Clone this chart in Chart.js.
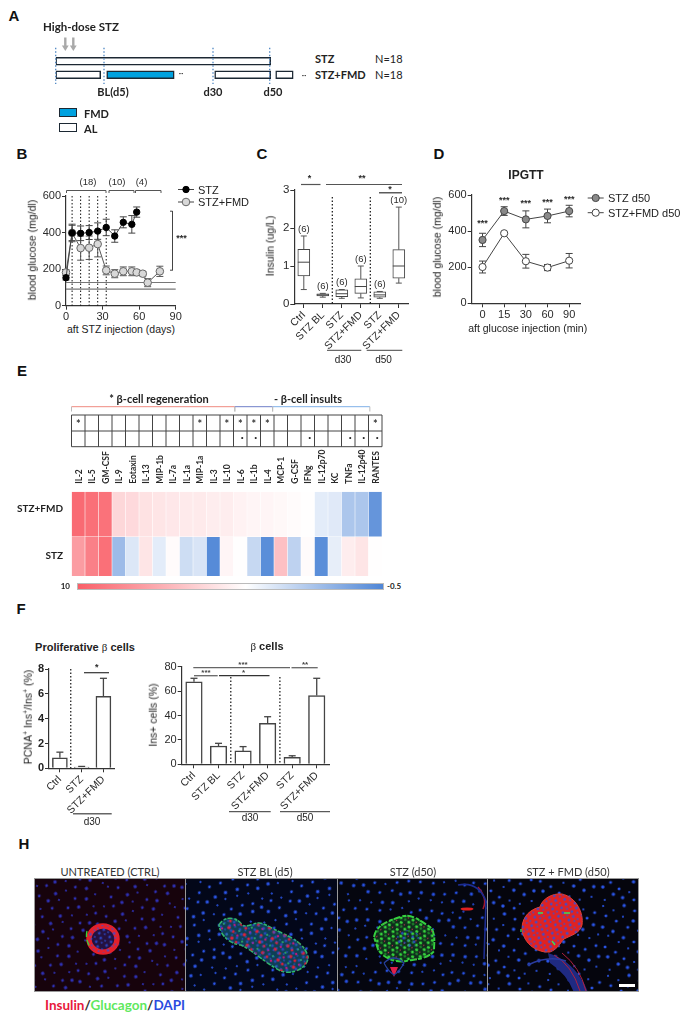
<!DOCTYPE html>
<html>
<head>
<meta charset="utf-8">
<script src="https://cdn.jsdelivr.net/npm/chart.js@4"></script>
<style>
  html, body { margin: 0; padding: 0; background: #fff; }
  #page { position: relative; width: 686px; height: 1022px; overflow: hidden; }
  .box { position: absolute; }
  .txt { position: absolute; white-space: nowrap; color: #222; line-height: 1; }
  .swatch { position: absolute; box-sizing: border-box; border: 1.5px solid #1c2833; }
  .img { position: absolute; top: 879px; height: 112px; overflow: hidden; outline: 0.5px solid #999; }
  .img svg { position: absolute; left: 0; top: 0; filter: blur(0.55px); }
</style>
</head>
<body>
<div id="page"></div>
<script>
// panel A schematic
const timelineRows = ["STZ", "STZ+FMD"];
const stzSegments = [[0, 215]];
const alSegments = [[0, 45], [159, 215], [220, 237.5]];
const fmdSegments = [[51, 118.5]];
const timelineMarks = [0, 48.3, 157.3, 214];

// panel B
const bDaysStz = [0, 5, 12, 19, 26, 33, 40, 47, 54, 58];
const bStz = [153, 398, 396, 400, 408, 428, 381, 456, 445, 512];
const bStzErr = [12, 42, 40, 38, 45, 45, 34, 30, 48, 28];
const bDaysFmd = [0, 5, 12, 19, 26, 33, 40, 47, 54, 58, 63, 67, 77];
const bFmd = [182, 398, 315, 317, 337, 193, 175, 188, 188, 182, 175, 126, 188];
const bFmdErr = [14, 48, 66, 64, 70, 24, 22, 24, 24, 14, 12, 22, 28];
const bInjections = [5, 12, 19, 26, 33];
const bNormalRange = [91, 127];

// panel C
const cGroups = ["Ctrl", "STZ BL", "STZ", "STZ+FMD", "STZ", "STZ+FMD"];
const cMin = [0.38, 0.18, 0.15, 0.16, 0.15, 0.55];
const cQ1 = [0.74, 0.21, 0.19, 0.28, 0.18, 0.68];
const cMedian = [1.1, 0.24, 0.27, 0.46, 0.24, 1.0];
const cQ3 = [1.44, 0.27, 0.37, 0.66, 0.32, 1.43];
const cMax = [1.79, 0.28, 0.38, 1.0, 0.33, 2.55];
const cCounts = ["(6)", "(6)", "(6)", "(6)", "(6)", "(10)"];

// panel D
const dTimes = ["0", "15", "30", "60", "90"];
const dStz = [351, 511, 465, 484, 511];
const dStzErr = [37, 24, 47, 38, 32];
const dFmd = [201, 388, 233, 198, 236];
const dFmdErr = [33, 6, 38, 17, 40];
const dStarLevels = [440, 570, 552, 557, 573];

// panel E
const cytokines = ["IL-2", "IL-5", "GM-CSF", "IL-9", "Eotaxin", "IL-13", "MIP-1b", "IL-7a", "IL-1a", "MIP-1a", "IL-3", "IL-10", "IL-6", "IL-1b", "IL-4", "MCP-1", "G-CSF", "IFNg", "IL-12p70", "KC", "TNFa", "IL-12p40", "RANTES"];
const heatFmd = [9.6, 9.4, 9.3, 5.7, 5.6, 5.3, 5.2, 5.1, 5.0, 5.0, 4.9, 4.9, 4.7, 4.6, 4.6, 4.5, 4.4, 4.3, 3.5, 3.4, 2.0, 2.0, 0.1];
const heatStz = [7.8, 8.8, 9.4, 1.6, 3.3, 5.2, 3.5, 4.4, 2.9, 3.2, -0.3, 4.6, 4.3, 2.7, -0.2, 6.5, 2.5, 4.4, -0.2, 3.6, 4.9, 5.2, 4.3];
const tableStars = [0, 9, 11, 12, 13, 14, 22];
const tableDots = [12, 13, 17, 20, 21, 22];

// panel F
const fLeftGroups = ["Ctrl", "STZ", "STZ+FMD"];
const fLeft = [0.85, 0.1, 5.8];
const fLeftErr = [0.45, 0.05, 1.45];
const fRightGroups = ["Ctrl", "STZ BL", "STZ", "STZ+FMD", "STZ", "STZ+FMD"];
const fRight = [67.7, 15, 11, 33.6, 5.7, 56.3];
const fRightErr = [2.8, 2.2, 3.5, 5.4, 1.3, 14.2];

const SANS = '"Liberation Sans", Arial, sans-serif';
const LATO = 'Lato, sans-serif';
const INK = "#2b2b2b";

const page = document.getElementById("page");

function label(html, x, y, opts = {}) {
  const el = document.createElement("div");
  el.className = "txt";
  el.innerHTML = html;
  el.style.left = x + "px";
  el.style.top = y + "px";
  el.style.fontFamily = opts.font || SANS;
  el.style.fontSize = (opts.size || 10.5) + "px";
  if (opts.bold) el.style.fontWeight = "bold";
  if (opts.color) el.style.color = opts.color;
  const dx = opts.align === "left" ? "0" : opts.align === "right" ? "-100%" : "-50%";
  el.style.transform = `translate(${dx}, -50%) rotate(${opts.rot || 0}deg)`;
  page.appendChild(el);
}

// places a chart so that its plot area lands on a fixed rectangle of the page
function makeChart(box, plot, config, notes) {
  const wrap = document.createElement("div");
  wrap.className = "box";
  Object.assign(wrap.style, { left: box.left + "px", top: box.top + "px", width: box.width + "px", height: box.height + "px" });
  const canvas = document.createElement("canvas");
  wrap.appendChild(canvas);
  page.appendChild(wrap);

  const scales = config.options.scales;
  const xTop = scales.x.position === "top";
  scales.x.afterFit = s => { s.height = xTop ? plot.top - box.top : box.top + box.height - plot.bottom; };
  scales.y.afterFit = s => { s.width = plot.left - box.left; };

  config.options.responsive = true;
  config.options.maintainAspectRatio = false;
  config.options.animation = false;
  config.options.plugins = { legend: { display: false }, tooltip: { enabled: false } };
  // hidden scales still take the space set in afterFit, so only the far sides need padding
  config.options.layout = {
    autoPadding: false,
    padding: {
      left: 0,
      right: box.left + box.width - plot.right,
      top: xTop ? 0 : plot.top - box.top,
      bottom: xTop ? box.top + box.height - plot.bottom : 0,
    },
  };
  if (notes) {
    config.plugins = [{
      id: "notes",
      beforeDatasetsDraw(chart) {
        if (notes.under) notes.under(chart.ctx, chart.scales.x, chart.scales.y, box);
      },
      afterDraw(chart) {
        if (notes.over) notes.over(chart.ctx, chart.scales.x, chart.scales.y, box);
      },
    }];
  }
  return new Chart(canvas, config);
}

function axisX(extra) {
  return Object.assign({
    grid: { drawOnChartArea: false, drawTicks: true, tickLength: 4, color: "#333", offset: false },
    border: { display: true, color: "#333", width: 1.2 },
    ticks: { font: { family: SANS, size: 11 }, color: INK, padding: 1 },
  }, extra);
}
function axisY(extra) {
  return Object.assign({
    grid: { drawOnChartArea: false, drawTicks: true, tickLength: 4, color: "#333" },
    border: { display: true, color: "#333", width: 1.2 },
    ticks: { font: { family: SANS, size: 11 }, color: INK, padding: 1 },
  }, extra);
}
function slanted(size, bold) {
  return { font: { family: SANS, size: size, weight: bold ? "bold" : "normal" }, color: INK, padding: 1, minRotation: 45, maxRotation: 45, autoSkip: false };
}

function line(ctx, x1, y1, x2, y2, color, width, dash) {
  ctx.save();
  ctx.strokeStyle = color || "#333";
  ctx.lineWidth = width || 1;
  ctx.setLineDash(dash || []);
  ctx.beginPath();
  ctx.moveTo(x1, y1);
  ctx.lineTo(x2, y2);
  ctx.stroke();
  ctx.restore();
}
function text(ctx, str, x, y, font, color, align) {
  ctx.save();
  ctx.font = font;
  ctx.fillStyle = color || INK;
  ctx.textAlign = align || "center";
  ctx.textBaseline = "middle";
  ctx.fillText(str, x, y);
  ctx.restore();
}
function errorBars(ctx, xs, ys, errs, xScale, yScale, color, capHalf, isCategory) {
  xs.forEach((xv, i) => {
    const x = xScale.getPixelForValue(isCategory ? i : xv);
    const hi = yScale.getPixelForValue(ys[i] + errs[i]);
    const lo = yScale.getPixelForValue(ys[i] - errs[i]);
    line(ctx, x, hi, x, lo, color, 1);
    line(ctx, x - capHalf, hi, x + capHalf, hi, color, 1);
    line(ctx, x - capHalf, lo, x + capHalf, lo, color, 1);
  });
}
// error whisker on the upper side of a bar only
function upperErrors(ctx, values, errs, xScale, yScale, capHalf) {
  values.forEach((v, i) => {
    const x = xScale.getPixelForValue(i);
    const top = yScale.getPixelForValue(v + errs[i]);
    line(ctx, x, yScale.getPixelForValue(v), x, top, "#444", 1.3);
    line(ctx, x - capHalf, top, x + capHalf, top, "#444", 1.3);
  });
}
function legendMark(ctx, x, y, fill, stroke, radius) {
  line(ctx, x - 8, y, x + 8, y, "#444", 1);
  ctx.save();
  ctx.beginPath();
  ctx.arc(x, y, radius, 0, Math.PI * 2);
  ctx.fillStyle = fill;
  ctx.fill();
  ctx.strokeStyle = stroke;
  ctx.lineWidth = 1;
  ctx.stroke();
  ctx.restore();
}

/* ---------- panel letters ---------- */
[["A", 14, 15], ["B", 22, 153], ["C", 262, 153], ["D", 439, 153], ["E", 22, 370], ["F", 21, 608], ["H", 24, 843]].forEach(p => {
  label(p[0], p[1], p[2], { size: 15, bold: true, font: SANS, color: "#111" });
});

/* ---------- A: schedule ---------- */
makeChart({ left: 40, top: 30, width: 270, height: 60 }, { left: 55.7, right: 295.7, top: 54.5, bottom: 81.5 }, {
  type: "bar",
  data: {
    labels: timelineRows,
    datasets: [
      { data: stzSegments.map(s => ({ x: s, y: "STZ" })), backgroundColor: "#fff" },
      { data: alSegments.map(s => ({ x: s, y: "STZ+FMD" })), backgroundColor: "#fff" },
      { data: fmdSegments.map(s => ({ x: s, y: "STZ+FMD" })), backgroundColor: "#00a2e0" },
    ].map(d => Object.assign(d, { borderColor: "#1c2833", borderWidth: 1.5, borderSkipped: false, barThickness: 8, grouped: false })),
  },
  options: {
    indexAxis: "y",
    scales: {
      x: { type: "linear", min: 0, max: 240, display: false },
      y: { type: "category", display: false },
    },
  },
}, {
  over(ctx, x, y, box) {
    timelineMarks.forEach(m => line(ctx, x.getPixelForValue(m), 47.7 - box.top, x.getPixelForValue(m), 84 - box.top, "#4f87c4", 1.3, [1.5, 2]));
    [65.3, 73.3].forEach(ax => {
      const px = ax - box.left;
      line(ctx, px, 37.5 - box.top, px, 48 - box.top, "#a9a9a9", 2.4);
      ctx.fillStyle = "#a9a9a9";
      ctx.beginPath();
      ctx.moveTo(px - 3.4, 45.5 - box.top);
      ctx.lineTo(px + 3.4, 45.5 - box.top);
      ctx.lineTo(px, 51 - box.top);
      ctx.fill();
    });
  },
});
label("High-dose STZ", 43, 27, { size: 11.5, bold: true, font: LATO, align: "left", color: "#222" });
label("STZ", 315, 58, { size: 11, bold: true, font: LATO, align: "left" });
label("N=18", 375, 58, { size: 11, font: LATO, align: "left" });
label("STZ+FMD", 315, 74, { size: 11, bold: true, font: LATO, align: "left" });
label("N=18", 375, 74, { size: 11, font: LATO, align: "left" });
label("•••", 181, 74, { size: 4, bold: true });
label("•••", 304, 76, { size: 4, bold: true });
label("BL(d5)", 113, 91, { size: 11, bold: true, font: LATO });
label("d30", 213, 91, { size: 11, bold: true, font: LATO });
label("d50", 273, 91, { size: 11, bold: true, font: LATO });
[["FMD", 108, "#00a2e0"], ["AL", 123, "#fff"]].forEach(k => {
  const sw = document.createElement("div");
  sw.className = "swatch";
  Object.assign(sw.style, { left: "59px", top: k[1] + "px", width: "18px", height: "9px", background: k[2] });
  page.appendChild(sw);
  label(k[0], 84, k[1] + 4.5, { size: 11, bold: true, font: LATO, align: "left" });
});

/* ---------- B: blood glucose ---------- */
makeChart({ left: 0, top: 170, width: 250, height: 152 }, { left: 66, right: 175.7, top: 196, bottom: 305.7 }, {
  type: "line",
  data: {
    datasets: [
      { data: bDaysStz.map((d, i) => ({ x: d, y: bStz[i] })), borderColor: "#444", borderWidth: 1, pointRadius: 3.2, pointBackgroundColor: "#000", pointBorderColor: "#000", clip: false },
      { data: bDaysFmd.map((d, i) => ({ x: d, y: bFmd[i] })), borderColor: "#555", borderWidth: 1, pointRadius: 3.8, pointBackgroundColor: "#d8d8d8", pointBorderColor: "#666", clip: false },
    ],
  },
  options: {
    scales: {
      x: axisX({ type: "linear", min: 0, max: 90, ticks: { stepSize: 30, font: { family: SANS, size: 11 }, color: INK, padding: 1 } }),
      y: axisY({ min: 0, max: 600, ticks: { stepSize: 200, font: { family: SANS, size: 11 }, color: INK, padding: 1 } }),
    },
  },
}, {
  under(ctx, x, y, box) {
    bInjections.forEach(d => line(ctx, x.getPixelForValue(d), y.getPixelForValue(600), x.getPixelForValue(d), y.getPixelForValue(0), "#111", 1, [1.5, 2]));
    bNormalRange.forEach(v => line(ctx, x.getPixelForValue(0), y.getPixelForValue(v), x.getPixelForValue(90), y.getPixelForValue(v), "#777", 1.2));
    errorBars(ctx, bDaysFmd, bFmd, bFmdErr, x, y, "#555", 3.5);
    errorBars(ctx, bDaysStz, bStz, bStzErr, x, y, "#444", 3.5);
  },
  over(ctx, x, y, box) {
    const top = box.top;
    [[66.5, 106, "(18)", 88, "#555"], [109, 134, "(10)", 117, "#555"], [135.5, 161, "(4)", 141.5, "#555"]].forEach(b => {
      line(ctx, b[0], 190.5 - top, b[1], 190.5 - top, b[4], 1);
      line(ctx, b[0], 190.5 - top, b[0], 193 - top, b[4], 1);
      line(ctx, b[1], 190.5 - top, b[1], 193 - top, b[4], 1);
      text(ctx, b[2], b[3], 182.5 - top, `9.5px ${SANS}`);
    });
    line(ctx, 170, 211.2 - top, 172.5, 211.2 - top, "#444", 1);
    line(ctx, 172.5, 211 - top, 172.5, 270.5 - top, "#444", 1);
    line(ctx, 170, 270.2 - top, 172.5, 270.2 - top, "#444", 1);
    text(ctx, "***", 181.5, 239 - top, `bold 9px ${SANS}`);
    legendMark(ctx, 186, 189.5 - top, "#000", "#000", 3.2);
    legendMark(ctx, 186, 202 - top, "#d8d8d8", "#666", 3.8);
  },
});
label("STZ", 198, 189.5, { size: 11, align: "left" });
label("STZ+FMD", 198, 202, { size: 11, align: "left" });
label("blood glucose (mg/dl)", 32, 250, { size: 10.5, rot: -90 });
label("aft STZ injection (days)", 121, 329, { size: 10.5 });

/* ---------- C: insulin ---------- */
makeChart({ left: 250, top: 170, width: 170, height: 195 }, { left: 294.3, right: 408.3, top: 190, bottom: 304 }, {
  type: "bar",
  data: {
    labels: cGroups,
    datasets: [{
      data: cGroups.map((g, i) => [cQ1[i], cQ3[i]]),
      backgroundColor: "#fff", borderColor: "#444", borderWidth: 1, borderSkipped: false, barThickness: 12,
    }],
  },
  options: {
    scales: {
      x: axisX({ ticks: slanted(10.5) }),
      y: axisY({ min: 0, max: 3, ticks: { stepSize: 1, font: { family: SANS, size: 11.5 }, color: INK, padding: 1 } }),
    },
  },
}, {
  under(ctx, x, y) {
    cGroups.forEach((g, i) => {
      const px = x.getPixelForValue(i);
      line(ctx, px, y.getPixelForValue(cQ3[i]), px, y.getPixelForValue(cMax[i]), "#555", 1);
      line(ctx, px, y.getPixelForValue(cQ1[i]), px, y.getPixelForValue(cMin[i]), "#555", 1);
      line(ctx, px - 3, y.getPixelForValue(cMax[i]), px + 3, y.getPixelForValue(cMax[i]), "#555", 1);
      line(ctx, px - 3, y.getPixelForValue(cMin[i]), px + 3, y.getPixelForValue(cMin[i]), "#555", 1);
    });
  },
  over(ctx, x, y, box) {
    const L = box.left, T = box.top;
    cGroups.forEach((g, i) => {
      const px = x.getPixelForValue(i);
      line(ctx, px - 6, y.getPixelForValue(cMedian[i]), px + 6, y.getPixelForValue(cMedian[i]), "#444", 1);
      text(ctx, cCounts[i], px, y.getPixelForValue(cMax[i]) - 7, `9.5px ${SANS}`);
    });
    [1.5, 3.5].forEach(v => line(ctx, x.getPixelForValue(v), 197 - T, x.getPixelForValue(v), 304 - T, "#111", 1.2, [1.5, 2]));
    line(ctx, 301 - L, 184.5 - T, 320.5 - L, 184.5 - T, "#555", 1.2);
    line(ctx, 326 - L, 184.5 - T, 402 - L, 184.5 - T, "#555", 1.2);
    line(ctx, 379 - L, 192.8 - T, 402 - L, 192.8 - T, "#333", 1.2);
    text(ctx, "*", 309.5 - L, 179 - T, `bold 9px ${SANS}`);
    text(ctx, "**", 362 - L, 179 - T, `bold 9px ${SANS}`);
    text(ctx, "*", 390 - L, 190 - T, `bold 9px ${SANS}`);
    line(ctx, 327 - L, 350.3 - T, 361.3 - L, 350.3 - T, "#444", 1);
    line(ctx, 366.7 - L, 350.3 - T, 402.3 - L, 350.3 - T, "#444", 1);
  },
});
label("Insulin (ug/L)", 270, 246, { size: 10.5, rot: -90 });
label("d30", 343, 359.5, { size: 10 });
label("d50", 383.5, 359.5, { size: 10 });

/* ---------- D: IPGTT ---------- */
makeChart({ left: 430, top: 165, width: 256, height: 155 }, { left: 471.7, right: 580, top: 195, bottom: 303.3 }, {
  type: "line",
  data: {
    labels: dTimes,
    datasets: [
      { data: dStz, borderColor: "#444", borderWidth: 1, pointRadius: 3.6, pointBackgroundColor: "#8a8a8a", pointBorderColor: "#444" },
      { data: dFmd, borderColor: "#444", borderWidth: 1, pointRadius: 3.6, pointBackgroundColor: "#fff", pointBorderColor: "#444" },
    ],
  },
  options: {
    scales: {
      x: axisX({ type: "category", offset: true }),
      y: axisY({ min: 0, max: 600, ticks: { stepSize: 200, font: { family: SANS, size: 11 }, color: INK, padding: 1 } }),
    },
  },
}, {
  under(ctx, x, y) {
    errorBars(ctx, dTimes, dStz, dStzErr, x, y, "#444", 3.5, true);
    errorBars(ctx, dTimes, dFmd, dFmdErr, x, y, "#444", 3.5, true);
  },
  over(ctx, x, y, box) {
    dTimes.forEach((t, i) => text(ctx, "***", x.getPixelForValue(i), y.getPixelForValue(dStarLevels[i]), `bold 9px ${SANS}`));
    legendMark(ctx, 595.7 - box.left, 198 - box.top, "#8a8a8a", "#444", 3.6);
    legendMark(ctx, 595.7 - box.left, 212.7 - box.top, "#fff", "#444", 3.6);
  },
});
label("IPGTT", 526, 175, { size: 12, bold: true });
label("STZ d50", 608, 198, { size: 11, align: "left" });
label("STZ+FMD d50", 608, 212.7, { size: 11, align: "left" });
label("blood glucose (mg/dl)", 437, 246.5, { size: 10.5, rot: -90 });
label("aft glucose injection (min)", 527.7, 327.7, { size: 10.5 });

/* ---------- E: cytokine heatmap ---------- */
function mix(from, to, t) {
  return "rgb(" + from.map((c, i) => Math.round(c + (to[i] - c) * t)).join(",") + ")";
}
function heatColor(v) {
  const mid = 4.25;
  if (v >= mid) return mix([255, 255, 255], [249, 95, 104], (v - mid) / (10 - mid));
  return mix([255, 255, 255], [79, 134, 214], (mid - v) / (mid + 0.5));
}
makeChart({ left: 0, top: 390, width: 400, height: 190 }, { left: 71.5, right: 382, top: 491.7, bottom: 576 }, {
  type: "bar",
  data: {
    labels: cytokines,
    datasets: [
      { data: cytokines.map(() => [0, 39]), backgroundColor: heatStz.map(heatColor), barPercentage: 1, categoryPercentage: 0.96, grouped: false },
      { data: cytokines.map(() => [39.5, 84.5]), backgroundColor: heatFmd.map(heatColor), barPercentage: 1, categoryPercentage: 0.96, grouped: false },
    ],
  },
  options: {
    scales: {
      x: {
        position: "top",
        grid: { display: false },
        border: { display: false },
        // rotated top labels get pushed left by Chart.js, labelOffset brings them back over the column
        ticks: { font: { family: LATO, size: 8.5, weight: "bold" }, color: "#2a2a2a", minRotation: 90, maxRotation: 90, autoSkip: false, padding: 0, labelOffset: 11 },
      },
      y: { min: 0, max: 84.5, display: false },
    },
  },
}, {
  over(ctx, x, y, box) {
    const T = box.top;
    const cell = x.getPixelForValue(1) - x.getPixelForValue(0);
    const edge = i => x.getPixelForValue(i) - cell / 2;
    // two row marker table
    for (let i = 0; i <= cytokines.length; i++) line(ctx, edge(i), 415 - T, edge(i), 446.7 - T, "#444", 1);
    [415, 431, 446.7].forEach(r => line(ctx, edge(0), r - T, edge(cytokines.length), r - T, "#444", 1));
    tableStars.forEach(i => text(ctx, "*", x.getPixelForValue(i), 424.5 - T, `bold 11px ${LATO}`, "#333"));
    tableDots.forEach(i => text(ctx, "•", x.getPixelForValue(i) + 2, 438 - T, `bold 7px ${SANS}`, "#222"));
    // brackets
    const brackets = [[-0.5, 11.6, "#ef8a80"], [11.6, 14.4, "#6f7fc8"], [14.4, 21.6, "#7fb0e8"]];
    brackets.forEach(b => {
      const a = edge(b[0] + 0.5), c = edge(b[1] + 0.5);
      line(ctx, a, 406.7 - T, c, 406.7 - T, b[2], 1);
      line(ctx, a, 406.7 - T, a, 411.5 - T, "#bbb", 1);
      line(ctx, c, 406.7 - T, c, 411.5 - T, "#bbb", 1);
    });
  },
});
label("* β-cell regeneration", 159, 398, { size: 11, bold: true, font: LATO });
label("- β-cell insults", 308, 398, { size: 11, bold: true, font: LATO });
label("STZ+FMD", 63, 507.7, { size: 10, bold: true, font: LATO, align: "right" });
label("STZ", 63, 555, { size: 10, bold: true, font: LATO, align: "right" });
label("10", 70, 585.5, { size: 8, bold: true, font: LATO, align: "right" });
label("-0.5", 387, 586, { size: 8, bold: true, font: LATO, align: "left" });
const bar = document.createElement("div");
Object.assign(bar.style, {
  position: "absolute", left: "77px", top: "582.5px", width: "307px", height: "7.5px", border: "1px solid #bbb", boxSizing: "border-box",
  background: "linear-gradient(to right, #f95f68 0%, #ffffff 55%, #4f86d6 100%)",
});
page.appendChild(bar);

/* ---------- F: bars ---------- */
makeChart({ left: 0, top: 655, width: 130, height: 165 }, { left: 49, right: 114.3, top: 669, bottom: 768.3 }, {
  type: "bar",
  data: {
    labels: fLeftGroups,
    datasets: [{ data: fLeft, backgroundColor: "#fff", borderColor: "#444", borderWidth: 1.5, borderSkipped: "bottom", barThickness: 15 }],
  },
  options: {
    scales: {
      x: axisX({ ticks: slanted(10.5) }),
      y: axisY({ min: 0, max: 8, ticks: { stepSize: 2, font: { family: SANS, size: 11, weight: "bold" }, color: "#222", padding: 1 } }),
    },
  },
}, {
  under(ctx, x, y) { upperErrors(ctx, fLeft, fLeftErr, x, y, 3.5); },
  over(ctx, x, y, box) {
    const L = box.left, T = box.top;
    line(ctx, x.getPixelForValue(0.5), 669 - T, x.getPixelForValue(0.5), 768 - T, "#111", 1.2, [1.5, 2]);
    line(ctx, 84 - L, 672.7 - T, 109 - L, 672.7 - T, "#333", 1.2);
    text(ctx, "*", 96.7 - L, 668 - T, `bold 9px ${SANS}`);
    line(ctx, 73 - L, 813.7 - T, 111.7 - L, 813.7 - T, "#666", 1.5);
  },
});
label('Proliferative <span style="font-family:\'Liberation Serif\';font-weight:normal">β</span> cells', 85, 646.7, { size: 11, bold: true });
label('PCNA<sup style="font-size:7px;line-height:0">+</sup> Ins<sup style="font-size:7px;line-height:0">+</sup>/Ins<sup style="font-size:7px;line-height:0">+</sup> (%)', 28, 716.7, { size: 10.5, rot: -90 });
label("d30", 92, 822, { size: 10 });

makeChart({ left: 130, top: 655, width: 220, height: 165 }, { left: 181.7, right: 329, top: 666.7, bottom: 764.3 }, {
  type: "bar",
  data: {
    labels: fRightGroups,
    datasets: [{ data: fRight, backgroundColor: "#fff", borderColor: "#444", borderWidth: 1.5, borderSkipped: "bottom", barThickness: 16.5 }],
  },
  options: {
    scales: {
      x: axisX({ ticks: slanted(10.5) }),
      y: axisY({ min: 0, max: 80, ticks: { stepSize: 20, font: { family: SANS, size: 11 }, color: INK, padding: 1 } }),
    },
  },
}, {
  under(ctx, x, y) { upperErrors(ctx, fRight, fRightErr, x, y, 3.5); },
  over(ctx, x, y, box) {
    const L = box.left, T = box.top;
    [1.5, 3.5].forEach(v => line(ctx, x.getPixelForValue(v), 677 - T, x.getPixelForValue(v), 764 - T, "#111", 1.2, [1.5, 2]));
    [[193.3, 290, 667.7, "#666"], [291.5, 317.7, 667.7, "#666"], [194, 217.7, 675.7, "#666"], [219, 269.5, 675.7, "#333"]].forEach(b => line(ctx, b[0] - L, b[2] - T, b[1] - L, b[2] - T, b[3], 1.3));
    [["***", 243, 664.5], ["**", 305, 664.5], ["***", 206, 673], ["*", 243.5, 673]].forEach(s => text(ctx, s[0], s[1] - L, s[2] - T, `bold 8px ${SANS}`, "#444"));
    line(ctx, 229 - L, 811.7 - T, 270.7 - L, 811.7 - T, "#333", 1);
    line(ctx, 280 - L, 811.7 - T, 330 - L, 811.7 - T, "#333", 1);
  },
});
label('<span style="font-family:\'Liberation Serif\';font-weight:normal">β</span> cells', 267, 645.5, { size: 11, bold: true });
label("Ins+ cells (%)", 152.5, 715, { size: 10.5, rot: -90 });
label("d30", 250, 817.5, { size: 10 });
label("d50", 305, 817.5, { size: 10 });

/* ---------- H: micrographs, redrawn as plain shapes ---------- */
const nucleiTile = [[4,6],[13,3],[24,8],[33,2],[44,7],[55,4],[64,9],[9,15],[19,17],[29,13],[40,18],[50,14],[60,19],[68,15],
  [3,25],[14,27],[25,23],[35,28],[46,24],[56,29],[65,26],[7,36],[18,34],[28,38],[39,33],[49,37],[61,35],[2,46],[12,44],[23,48],
  [32,43],[43,47],[53,45],[66,44],[8,55],[20,57],[30,53],[41,56],[52,54],[62,57]];
const nucleiDots = nucleiTile.map((p, i) => `<circle cx="${p[0]}" cy="${p[1]}" r="${1.1 + (i % 3) * 0.3}"/>`).join("");
const tileDefs = (n, nuc) => `
  <defs>
    <pattern id="nuc${n}" width="70" height="60" patternUnits="userSpaceOnUse" patternTransform="rotate(${17 + n * 23}) translate(${n * 11} ${n * 7})"><g fill="${nuc}">${nucleiDots}</g></pattern>
    <pattern id="bd${n}" width="11" height="9" patternUnits="userSpaceOnUse" patternTransform="rotate(20)"><g fill="#2c50e0"><circle cx="2" cy="2" r="1.4"/><circle cx="7.5" cy="1" r="1"/><circle cx="5" cy="6" r="1.5"/><circle cx="10" cy="7" r="0.9"/></g></pattern>
    <pattern id="rd${n}" width="13" height="11" patternUnits="userSpaceOnUse" patternTransform="rotate(-15)"><g><circle cx="3" cy="3" r="1.8" fill="#e0203a"/><circle cx="9" cy="2" r="1.2" fill="#c2187a"/><circle cx="6" cy="8" r="1.5" fill="#d8203a"/><circle cx="12" cy="9" r="1" fill="#2fb86a"/></g></pattern>
    <pattern id="gd${n}" width="9" height="8" patternUnits="userSpaceOnUse" patternTransform="rotate(30)"><g><circle cx="2" cy="2" r="1.6" fill="#36d43c"/><circle cx="6.5" cy="1.5" r="1.2" fill="#1f8f2a"/><circle cx="4.5" cy="6" r="1.6" fill="#36d43c"/><circle cx="8.5" cy="6.5" r="0.8" fill="#c03050"/></g></pattern>
  </defs>`;
const islet2 = "M33 46 C38 36 52 38 56 46 C62 50 70 40 80 46 C95 55 118 60 122 78 C122 90 105 96 95 92 C80 85 68 72 55 66 C45 65 35 58 33 46Z";
const islet3 = "M36 58 C38 46 50 42 62 38 C72 34 80 40 92 48 C98 54 96 62 96 72 C90 80 78 80 68 82 C56 84 44 78 40 70Z";
const islet4 = "M34 50 C34 36 44 30 52 28 C54 20 64 14 74 15 C88 18 96 34 94 46 C92 54 84 56 76 60 C72 64 70 70 62 73 C50 74 36 66 34 50Z";
const micrographs = [
  { left: 35, width: 150.7, bg: "#17030c", nuc: "#2e30b4", title: "UNTREATED (CTRL)", cx: 110, svg: `
    <ellipse cx="68" cy="60" rx="16" ry="15" fill="#24113f"/>
    <ellipse cx="68" cy="60" rx="14" ry="13" fill="none" stroke="#e4202a" stroke-width="5.5"/>
    <ellipse cx="68" cy="60" rx="15" ry="14" fill="url(#bdI)" opacity="0.75"/>
    <path d="M52 52 Q50 60 55 68" fill="none" stroke="#36d43c" stroke-width="1.3" stroke-dasharray="6 3"/>` },
  { left: 185.7, width: 152, bg: "#030719", nuc: "#2a55e8", title: "STZ BL (d5)", cx: 265, svg: `
    <path d="${islet2}" fill="#0e3f55" stroke="#2fb86a" stroke-width="1.6" stroke-dasharray="5 2 3 1"/>
    <path d="${islet2}" fill="url(#rdI)"/>
    <path d="${islet2}" fill="url(#bdI)" opacity="0.7"/>` },
  { left: 337.7, width: 150, bg: "#05060f", nuc: "#2650e0", title: "STZ (d50)", cx: 413, svg: `
    <path d="${islet3}" fill="#0e2c1c" stroke="#35d040" stroke-width="2" stroke-dasharray="7 2 4 1"/>
    <path d="${islet3}" fill="url(#gdI)"/>
    <ellipse cx="70" cy="60" rx="12" ry="9" fill="url(#bdI)" opacity="0.8"/>
    <ellipse cx="129" cy="30" rx="6.5" ry="1.6" fill="#e02020"/>
    <path d="M140 8 Q150 20 145 30" fill="none" stroke="#a01830" stroke-width="1.5"/>
    <path d="M120 6 Q140 2 148 22 L146 80" fill="none" stroke="#1c2c90" stroke-width="1.6"/>
    <path d="M52 88 L60 88 L56 98Z" fill="#e0204a"/>
    <path d="M46 84 Q56 74 66 84 Q62 92 56 96 Q50 92 46 84" fill="none" stroke="#26409c" stroke-width="1.2"/>` },
  { left: 487.7, width: 150.6, bg: "#05050d", nuc: "#2a55e8", title: "STZ + FMD (d50)", cx: 568, svg: `
    <path d="M60 74 Q80 80 92 98 Q98 106 100 114 L86 114 Q80 96 62 84Z" fill="#1f2a82"/>
    <path d="M66 76 Q84 86 92 112 M74 74 Q92 88 98 112" fill="none" stroke="#b02040" stroke-width="1"/>
    <path d="M40 86 Q60 76 78 82" fill="none" stroke="#2a3ca0" stroke-width="1.5"/>
    <path d="${islet4}" fill="#e02222" stroke="#e84030" stroke-width="1"/>
    <path d="${islet4}" fill="url(#bdI)" opacity="0.85"/>
    <path d="M50 34 h5 M76 34 h6 M33 50 v3 M64 62 l3 4" stroke="#3be05a" stroke-width="1.3"/>` },
];
micrographs.forEach((m, i) => {
  const d = document.createElement("div");
  d.className = "img";
  d.style.left = m.left + "px";
  d.style.width = m.width + "px";
  d.style.backgroundColor = m.bg;
  const body = m.svg.replace(/url\(#(\w+)I\)/g, `url(#$1${i})`);
  d.innerHTML = `<svg width="${m.width}" height="112" viewBox="0 0 ${m.width} 112">${tileDefs(i, m.nuc)}<rect width="${m.width}" height="112" fill="url(#nuc${i})"/>${body}</svg>`;
  page.appendChild(d);
  label(m.title, m.cx, 870.5, { size: 11, font: LATO, color: "#333" });
});
const scaleBar = document.createElement("div");
Object.assign(scaleBar.style, { position: "absolute", left: "619.3px", top: "983.5px", width: "15.5px", height: "3.5px", background: "#fff" });
page.appendChild(scaleBar);
label('<span style="color:#e8183c">Insulin</span>/<span style="color:#5fe860">Glucagon</span>/<span style="color:#2a4be0">DAPI</span>', 45, 1006, { size: 13.5, bold: true, font: LATO, align: "left", color: "#333" });
</script>
</body>
</html>
